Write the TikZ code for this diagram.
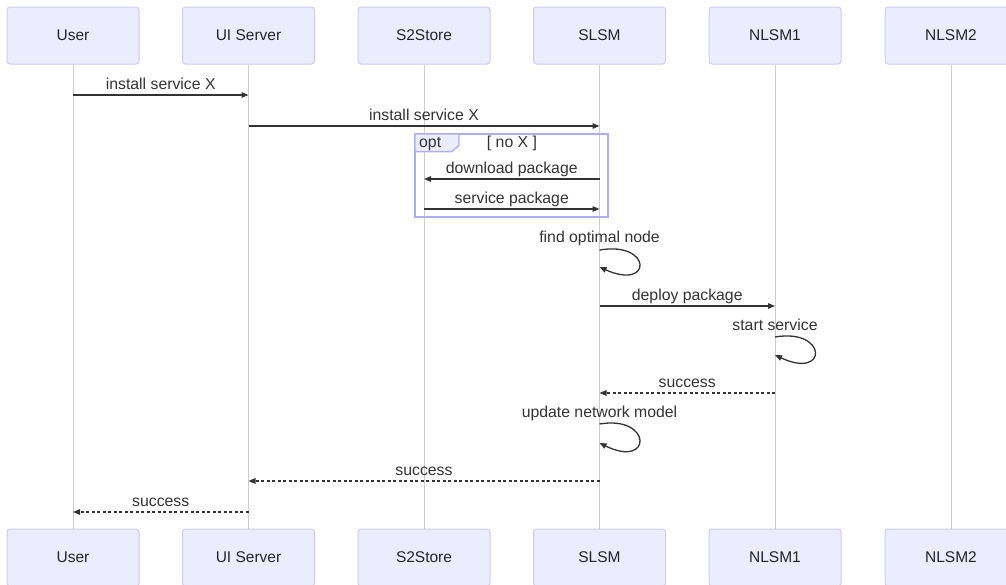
\documentclass[tikz,border=0pt]{standalone}
\usepackage{fontspec}
\setmainfont{Liberation Sans}
\usetikzlibrary{arrows.meta}
\definecolor{actorfill}{HTML}{ECECFF}
\definecolor{actorline}{HTML}{CCCCF5}
\definecolor{framecol}{HTML}{AFAFF0}
\definecolor{lifecol}{HTML}{CCCCCC}
\definecolor{ink}{HTML}{333333}
\tikzset{
  actor/.style={draw=actorline, fill=actorfill, line width=1pt, rounded corners=3pt,
    minimum width=132pt, minimum height=57pt, inner sep=0pt, text=black!85,
    font=\fontsize{15.5}{18}\selectfont},
  life/.style={draw=lifecol, line width=1pt},
  msg/.style={draw=ink, line width=1.3pt, -{Triangle[length=7pt,width=5.5pt]}},
  reply/.style={msg, dash pattern=on 3pt off 2.5pt},
  msglabel/.style={text=ink, font=\fontsize{15.8}{18}\selectfont, anchor=base, inner sep=0pt},
  over/.style={msglabel, pos=0.5, yshift=5.8pt},
  optframe/.style={draw=framecol, line width=1.3pt},
}
\begin{document}
\begin{tikzpicture}[x=1pt,y=-1pt]
\useasboundingbox (0,0) rectangle (1006,584);
\clip (0,0) rectangle (1006,584);

% participants, top and bottom
\foreach \n/\t/\x in {user/User/73, ui/UI Server/248.5, s2/S2Store/424,
                      slsm/SLSM/599.5, nl1/NLSM1/775, nl2/NLSM2/951}{
  \node[actor] (\n T) at (\x,35.5) {\t};
  \node[actor] (\n B) at (\x,557.5) {\t};
}

% lifelines
\foreach \n in {user,ui,s2,slsm,nl1,nl2}{
  \draw[life] (\n T.south) -- (\n B.north);
}

% message rows
\foreach \r/\y in {r1/95, r2/126, r4/179, r5/209, r7/306, r9/393, r11/481, r12/512}{
  \coordinate (\r) at (0,\y);
}

% opt fragment
\draw[optframe] (415,134) rectangle (608,217);
\draw[optframe, fill=actorfill] (415,134) -- (459,134) -- (459,145.5) -- (451.5,151.6)
  -- (415,151.6) -- cycle;
\node[msglabel, anchor=base west] (optlab) at (419,147.5) {opt};
\node[msglabel] (cond) at (512,147.5) {[ no X ]};

% messages
\draw[msg] (userT |- r1) -- node[over] (l1) {install service X} (uiT |- r1);
\draw[msg] (uiT |- r2) -- node[over] (l2) {install service X} (slsmT |- r2);
\draw[msg] (slsmT |- r4) -- node[over] (l4) {download package} (s2T |- r4);
\draw[msg] (s2T |- r5) -- node[over] (l5) {service package} (slsmT |- r5);

% self call on SLSM
\coordinate (f1) at (599.5,250);
\coordinate (f2) at (599.5,267);
\node[msglabel] (l6) at (599.5,242) {find optimal node};
\draw[msg] (f1) .. controls ++(53,-9) and ++(53,24) .. (f2);

\draw[msg] (slsmT |- r7) -- node[over] (l7) {deploy package} (nl1T |- r7);

% self call on NLSM1
\coordinate (s1) at (775,337);
\coordinate (s2c) at (775,355);
\node[msglabel] (l8) at (775,330) {start service};
\draw[msg] (s1) .. controls ++(53,-9) and ++(53,25) .. (s2c);

\draw[reply] (nl1T |- r9) -- node[over] (l9) {success} (slsmT |- r9);

% self call on SLSM
\coordinate (u1) at (599.5,424);
\coordinate (u2) at (599.5,443);
\node[msglabel] (l10) at (599.5,417) {update network model};
\draw[msg] (u1) .. controls ++(53,-9) and ++(53,26) .. (u2);

\draw[reply] (slsmT |- r11) -- node[over] (l11) {success} (uiT |- r11);
\draw[reply] (uiT |- r12) -- node[over] (l12) {success} (userT |- r12);
\end{tikzpicture}
\end{document}
